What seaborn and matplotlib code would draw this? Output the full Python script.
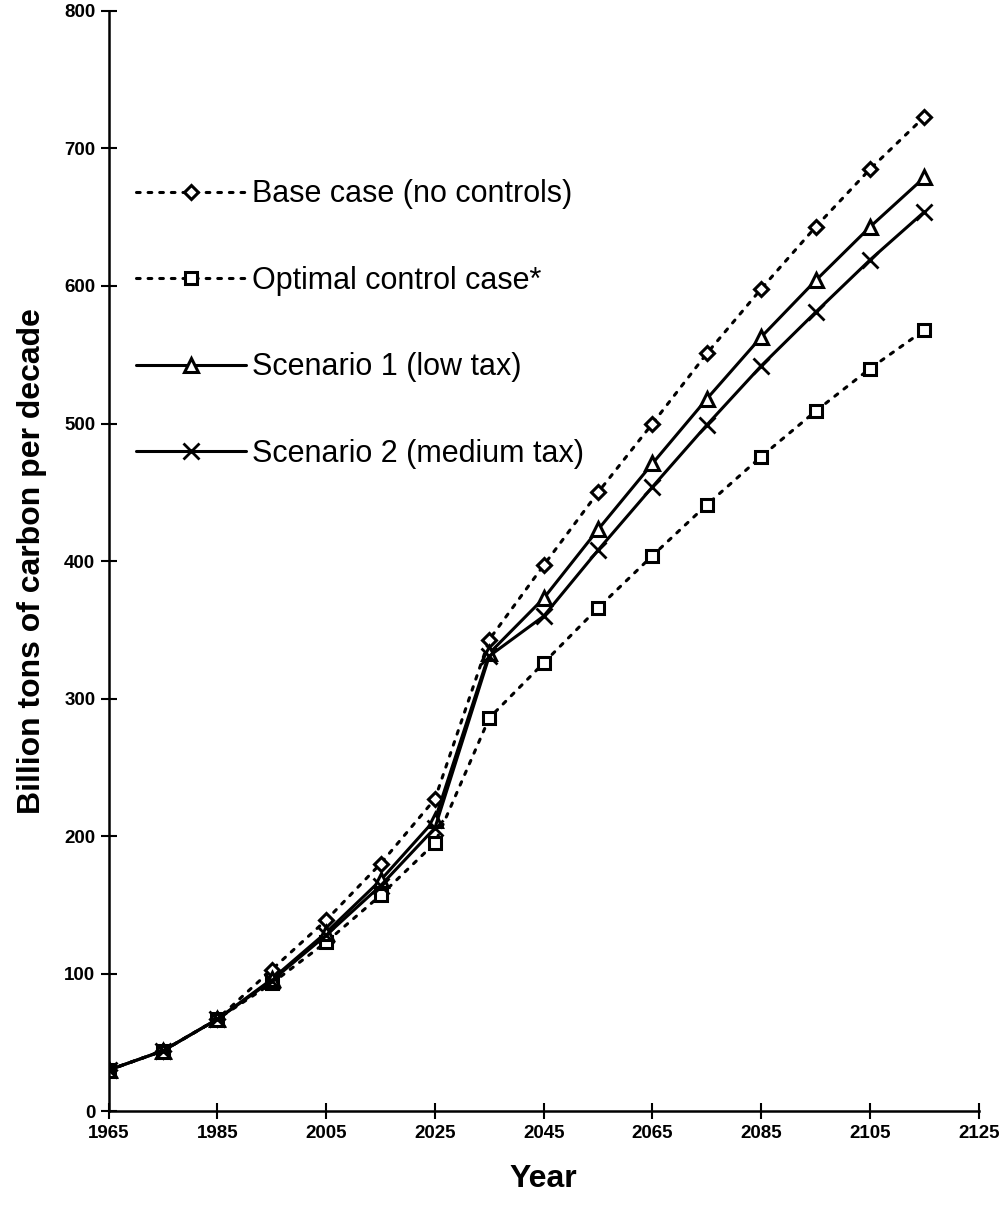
import pandas as pd
import matplotlib
matplotlib.use("Agg")
import matplotlib.pyplot as plt
import seaborn as sns

# Carbon emissions per decade (billion tons)
years = [1965, 1975, 1985, 1995, 2005, 2015, 2025, 2035,
         2045, 2055, 2065, 2075, 2085, 2095, 2105, 2115]
base_case = [30, 44, 67, 103, 139, 180, 227, 343,
             397, 450, 500, 551, 598, 643, 685, 723]
optimal_case = [30, 44, 67, 93, 123, 157, 195, 286,
                326, 366, 404, 441, 476, 509, 540, 568]
scenario_1 = [30, 44, 67, 96, 130, 168, 212, 333,
              373, 423, 471, 518, 563, 604, 643, 679]
scenario_2 = [30, 44, 67, 95, 128, 164, 206, 331,
              360, 408, 454, 499, 542, 581, 619, 654]

series_names = ['Base case (no controls)', 'Optimal control case*',
                'Scenario 1 (low tax)', 'Scenario 2 (medium tax)']
series_values = [base_case, optimal_case, scenario_1, scenario_2]

sns.set_style('ticks')
plt.rcParams['font.family'] = ['Liberation Sans', 'DejaVu Sans']
plt.rcParams['text.color'] = 'black'
plt.rcParams['axes.labelcolor'] = 'black'
plt.rcParams['xtick.color'] = 'black'
plt.rcParams['ytick.color'] = 'black'
plt.rcParams['axes.edgecolor'] = 'black'

styles = {
    'Base case (no controls)': dict(linestyle=(0, (1.2, 2.6)), marker='D', markersize=7),
    'Optimal control case*': dict(linestyle=(0, (1.2, 2.6)), marker='s', markersize=8),
    'Scenario 1 (low tax)': dict(linestyle='-', marker='^', markersize=10),
    'Scenario 2 (medium tax)': dict(linestyle='-', marker='x', markersize=11, markeredgewidth=2),
}

fig, ax = plt.subplots(figsize=(10.05, 12.08), dpi=100)
fig.subplots_adjust(left=0.108, right=0.974, bottom=0.080, top=0.991)

for name, vals in zip(series_names, series_values):
    df = pd.DataFrame({'year': years, 'value': vals})
    st = dict(styles[name])
    sns.lineplot(data=df, x='year', y='value', ax=ax, color='black',
                 linewidth=2.2, dash_capstyle='round',
                 markerfacecolor='white', markeredgecolor='black',
                 markeredgewidth=st.pop('markeredgewidth', 2.2),
                 label=name, **st)

ax.set_xlim(1965, 2125)
ax.set_ylim(0, 800)
ax.set_xticks(range(1965, 2126, 20))
ax.set_yticks(range(0, 801, 100))
ax.tick_params(direction='inout', length=12, width=1.5, labelsize=13.5)
for lab in ax.get_xticklabels() + ax.get_yticklabels():
    lab.set_fontweight('bold')
for sp in ['left', 'bottom']:
    ax.spines[sp].set_linewidth(1.8)
sns.despine(ax=ax)

ax.set_xlabel('Year', fontsize=23, fontweight='bold', labelpad=16)
ax.set_ylabel('Billion tons of carbon per decade', fontsize=23,
              fontweight='bold', labelpad=12)

ax.legend(loc='upper left', bbox_to_anchor=(0.0, 0.872), frameon=False,
          fontsize=22, handlelength=3.6, handletextpad=0.2,
          labelspacing=1.85)

plt.savefig('out.png', dpi=100)
